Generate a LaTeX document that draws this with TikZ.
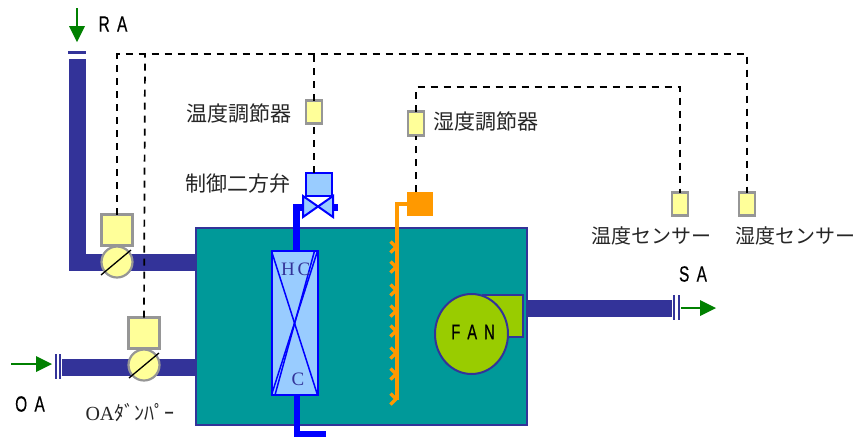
\documentclass[tikz,border=0pt]{standalone}
\usepackage{fontspec}
\usetikzlibrary{shapes.geometric}
\setmainfont{Noto Sans CJK JP}
\newfontfamily\latinsans[FakeStretch=0.7,FakeBold=0.4]{Liberation Sans}
\newfontfamily\latinserif{Liberation Serif}
\definecolor{duct}{HTML}{333399}
\definecolor{teal1}{HTML}{009999}
\definecolor{pale}{HTML}{FFFF99}
\definecolor{palegray}{HTML}{969696}
\definecolor{sky}{HTML}{99CCFF}
\definecolor{flow}{HTML}{008000}
\definecolor{orange1}{HTML}{FF9900}
\definecolor{fan}{HTML}{99CC00}
\tikzset{
  every node/.style={inner sep=0pt,outer sep=0pt},
  boxy/.style={rectangle,draw=palegray,fill=pale,line width=2.2pt,minimum width=#1},
  ctl/.style={boxy=16.5pt,minimum height=23pt},
  dmpbox/.style={boxy=31pt,minimum height=31pt},
  dmpcirc/.style={ellipse,draw=palegray,fill=pale,line width=2.2pt,minimum width=31pt,minimum height=31pt},
  ductline/.style={line width=17pt,draw=duct},
  flange/.style={line width=2.2pt,draw=duct},
  signal/.style={draw=black,line width=1.7pt,dash pattern=on 7pt off 6pt},
  flowarrow/.style={draw=flow,line width=1.4pt},
  flowhead/.style={fill=flow},
  water/.style={draw=blue,line width=6.5pt},
  steam/.style={draw=orange1,line width=3.5pt},
  lab/.style={font=\fontsize{21}{23}\selectfont,text=black!85},
  senslab/.style={font=\fontsize{20}{22}\selectfont,text=black!85},
  tag/.style={font=\latinsans\fontsize{22}{24}\selectfont,text=black},
  coiltxt/.style={text=duct,font=\latinserif\fontsize{19}{21}\selectfont},
}
\begin{document}
\begin{tikzpicture}[x=1pt,y=-1pt]
\useasboundingbox (0,0) rectangle (856,437);
\fill[white] (0,0) rectangle (856,437);
% coordinates
\coordinate (ductTop) at (77.5,59);
\coordinate (ductCorner) at (77.5,262);
\coordinate (raEnd) at (196,262);
\coordinate (oaStart) at (62,367.5);
\coordinate (oaEnd) at (196,367.5);
\coordinate (saStart) at (527,308.5);
\coordinate (saEnd) at (672,308.5);
% ducts
\draw[ductline,line join=miter] (ductTop) -- (ductCorner) -- (raEnd);
\draw[ductline] (oaStart) -- (oaEnd);
\draw[ductline] (saStart) -- (saEnd);
\draw[flange,line width=2.5pt] (68,52.5) -- (86,52.5);
\draw[flange] (56,354) -- (56,379);
\draw[flange] (60,354) -- (60,379);
\draw[flange] (674,295) -- (674,320);
\draw[flange] (679,295) -- (679,320);
% flow arrows
\draw[flowarrow] (77,8) -- (77,28);
\fill[flowhead] (69,26) -- (85,26) -- (77,42) -- cycle;
\draw[flowarrow] (11,364) -- (38,364);
\fill[flowhead] (36,356) -- (52,364) -- (36,372) -- cycle;
\draw[flowarrow] (681,308) -- (702,308);
\fill[flowhead] (700,300) -- (716,308) -- (700,316) -- cycle;
% main casing
\node[rectangle,draw=duct,fill=teal1,line width=1.6pt,minimum width=331pt,minimum height=197pt,anchor=north west] (casing) at (196,228) {};
% signal nodes
\node[ctl] (ctlT) at (314,112) {};
\node[ctl,minimum height=24pt] (ctlH) at (416,123.5) {};
\node[ctl] (senT) at (680,204) {};
\node[ctl] (senH) at (747,204) {};
\node[rectangle,fill=orange1,minimum width=26pt,minimum height=24pt] (hum) at (420,204) {};
\node[rectangle,draw=blue,fill=sky,line width=2pt,minimum width=26pt,minimum height=23pt] (act) at (318.5,184) {};
% dampers
\node[dmpbox] (d1box) at (117,230) {};
\node[dmpcirc] (d1) at (117,262) {};
\draw[black,line width=1.3pt] (101,275) -- (131,250);
\node[dmpbox] (d2box) at (144,333) {};
\node[dmpcirc] (d2) at (144,365) {};
\draw[black,line width=1.3pt] (129,378) -- (159,353);
% signal lines
\coordinate (topL) at (118,54);
\coordinate (topM) at (145,54);
\coordinate (topV) at (314,54);
\coordinate (topR) at (747,54);
\coordinate (humTop) at (416,87);
\coordinate (humR) at (680,87);
\draw[signal] (d1box.north) -- (d1box.north |- topL) -- (topR) -- (senH.north);
\draw[signal] (d2box.north) -- (topM);
\draw[signal] (ctlT.north) -- (topV);
\draw[signal] (act.north -| ctlT) -- (ctlT.south);
\draw[signal] (ctlH.north) -- (humTop) -- (humR) -- (senT.north);
\draw[signal] (hum.north -| ctlH) -- (ctlH.south);
% water pipe and valve
\coordinate (pipeA) at (296.5,207.5);
\coordinate (valveL) at (303,207.5);
\coordinate (valveR) at (333,207.5);
\coordinate (stub) at (338,207.5);
\draw[water,line cap=butt] (296.5,251) -- (pipeA) -- (valveL);
\draw[water] (valveR) -- (stub);
\fill[sky] (303,195) -- (318,207) -- (333,195) -- (333,218) -- (318,207) -- (303,218) -- cycle;
\draw[blue,line width=2pt,line join=miter] (303,196) -- (333,217) -- (333,196) -- (303,217) -- cycle;
% coil
\node[rectangle,draw=blue,fill=sky,line width=2pt,minimum width=46pt,minimum height=144pt,anchor=north west] (coil) at (271.5,251) {};
\draw[blue,line width=1.5pt] (coil.north west) -- (coil.south east);
\draw[blue,line width=1.5pt] (coil.north east) -- (coil.south west);
\draw[blue,line width=1.5pt] ([xshift=-3pt]coil.north east) -- ([xshift=3.5pt]coil.south west);
\node[coiltxt] (hcH) at (288,269) {H};
\node[coiltxt] (hcC) at (304,269) {C};
\node[coiltxt] (cC) at (298,379) {C};
\coordinate (pipeB) at (297,434);
\coordinate (pipeC) at (326,434);
\draw[water] (297,395) -- (pipeB);
\draw[water,line width=6pt] (294,434) -- (pipeC);
% humidifier
\coordinate (steamTop) at (397,204);
\coordinate (steamBot) at (397,400);
\draw[steam,line join=miter] (hum.west) -- (steamTop) -- (steamBot);
\foreach \yy in {247,267,290,311,331,353,374,399}{
  \draw[steam] (390.5,\yy-5.5) -- (396,\yy) -- (390.5,\yy+5.5);
}
% fan
\node[rectangle,draw=duct,fill=fan,line width=2pt,minimum width=40pt,minimum height=42pt,anchor=north west] (outlet) at (483,295) {};
\node[ellipse,draw=duct,fill=fan,line width=2pt,minimum width=73pt,minimum height=80pt] (fanwheel) at (471.5,334) {};
\node[tag,font=\latinsans\fontsize{21}{23}\selectfont] (fanlab) at (473,332) {F\,\,A\,\,N};
% labels
\node[tag] (ra) at (113,24) {R\,\,A};
\node[tag] (oa) at (30,404) {O\,\,A};
\node[tag] (sa) at (693,274) {S\,\,A};
\node[lab] (l1) at (239,114) {温度調節器};
\node[lab] (l2) at (486,122) {湿度調節器};
\node[lab] (l3) at (238,184) {制御二方弁};
\node[senslab] (l4) at (651,236) {温度センサー};
\node[senslab] (l5) at (795.5,236) {湿度センサー};
\node[font=\fontsize{20}{22}\selectfont,text=black!85] (l6) at (130,413) {{\latinserif OA}ﾀﾞﾝﾊﾟｰ};
\end{tikzpicture}
\end{document}
